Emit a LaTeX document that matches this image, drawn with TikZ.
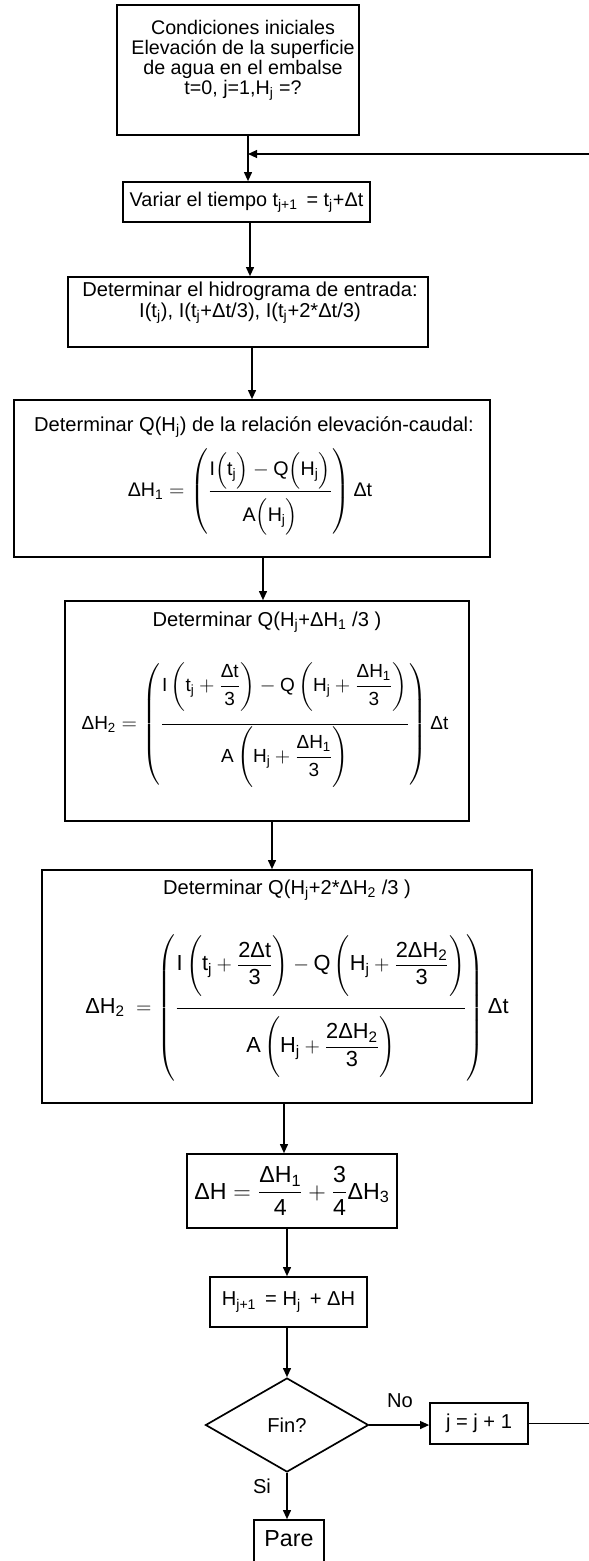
\documentclass[tikz,border=0pt]{standalone}
\usepackage{amsmath}
\usepackage{fontspec}
\setmainfont{Liberation Sans}
\setsansfont{Liberation Sans}
\usetikzlibrary{arrows.meta,shapes.geometric}
\newcommand\Dl{\text{Δ}}
\newcommand\sbs[1]{\textsubscript{#1}}
\newcommand\st[2]{\vrule width 0pt height #1 depth #2\relax}
\begin{document}
\begin{tikzpicture}[x=0.025cm,y=-0.025cm,
  bx/.style 2 args={draw, line width=1.2pt, inner sep=0pt, minimum width={#1*0.025cm}, minimum height={#2*0.025cm}},
  txt/.style={inner sep=0pt, font=\fontsize{14.3}{14.3}\selectfont, align=center},
  arr/.style={line width=1pt, -{Triangle[length=6.4pt,width=5.6pt]}}]
\useasboundingbox (0,0) rectangle (588,1561);

% boxes
\node[bx={242}{130}] (b1) at (238,70) {};
\node[bx={247}{40}, font=\fontsize{14.1}{14.3}\selectfont] (b2) at (246.5,202) {Variar el tiempo t\sbs{j+1} \,= t\sbs{j}+Δt};
\node[bx={360}{70}] (b3) at (248,312) {};
\node[bx={476}{157}] (b4) at (252,478.5) {};
\node[bx={404}{220}] (b5) at (267,711) {};
\node[bx={490}{233}] (b6) at (287,986.5) {};
\node[bx={210}{74}, font=\fontsize{16.5}{18}\selectfont] (b7) at (292,1191)
  {$\mathrm{\Dl H = \dfrac{\Dl H_1}{4} + \dfrac{3}{4}\Dl H_3}$};
\node[bx={157}{50}, font=\fontsize{14.3}{14.3}\selectfont] (b8) at (288.5,1302) {H\sbs{j+1} \,= H\sbs{j} \,+ ΔH};
\node[draw, line width=1.2pt, shape=diamond, inner sep=0pt, minimum width={163*0.025cm}, minimum height={94*0.025cm}, font=\fontsize{14.3}{14.3}\selectfont] (dia) at (287,1425) {Fin?};
\node[bx={98}{41}, font=\fontsize{14.3}{14.3}\selectfont] (jb) at (479,1423.5) {j = j + 1};
\node[bx={70}{55}] (pare) at (289,1547.5) {};

% texts
\node[txt, font=\fontsize{14}{14.3}\selectfont] (t1) at (243,60) {Condiciones iniciales\\Elevación de la superficie\\de agua en el embalse\\t=0, j=1,H\sbs{j} =?};
\node[txt, font=\fontsize{14.3}{14.9}\selectfont] (t3) at (250,303) {Determinar el hidrograma de entrada:\\I(t\sbs{j}), I(t\sbs{j}+Δt/3), I(t\sbs{j}+2*Δt/3)};
\node[txt] (t4) at (254,427) {Determinar Q(H\sbs{j}) de la relación elevación-caudal:};
\node[inner sep=0pt, font=\fontsize{14}{16}\selectfont] (f4) at (250,492)
  {$\mathrm{\Dl H_1 = \left(\dfrac{I\Bigl(t_j\Bigr) - Q\Bigl(H_j\Bigr)}{\st{19.5pt}{0pt}A\Bigl(H_j\Bigr)}\right)\Dl t}$};
\node[txt] (t5) at (267,622) {Determinar Q(H\sbs{j}+ΔH\sbs{1} /3 )};
\node[inner sep=0pt, font=\fontsize{13.5}{16}\selectfont] (f5) at (265,725)
  {$\mathrm{\Dl H_2 = \left(\dfrac{\st{0pt}{21pt}I\left(\st{19.9pt}{12.9pt}t_j + \dfrac{\Dl t}{3}\right) - Q\left(\st{19.9pt}{12.9pt}H_j + \dfrac{\Dl H_1}{3}\right)}{\st{25.3pt}{0pt}A\left(\st{23.4pt}{16.4pt}H_j + \dfrac{\Dl H_1}{3}\right)}\right)\Dl t}$};
\node[txt] (t6) at (287,890) {Determinar Q(H\sbs{j}+2*ΔH\sbs{2} /3 )};
\node[inner sep=0pt, font=\fontsize{15.5}{18}\selectfont] (f6) at (297,1008)
  {$\mathrm{\Dl H_2 \; = \left(\dfrac{\st{0pt}{24.5pt}I\left(\st{23.4pt}{15.6pt}t_j + \dfrac{2\Dl t}{3}\right) - Q\left(\st{23.4pt}{15.6pt}H_j + \dfrac{2\Dl H_2}{3}\right)}{\st{29.5pt}{0pt}A\left(\st{27pt}{19pt}H_j + \dfrac{2\Dl H_2}{3}\right)}\right)\Dl t}$};
\node[txt, font=\fontsize{16.5}{16.5}\selectfont] (tp) at (289,1539) {Pare};
\node[txt] (no) at (400,1401) {No};
\node[txt] (si) at (262,1486) {Si};

% connector x positions
\coordinate (x1) at (248,0);
\coordinate (x2) at (250,0);
\coordinate (x3) at (252,0);
\coordinate (x4) at (263,0);
\coordinate (x5) at (272,0);
\coordinate (x6) at (284,0);
\coordinate (x7) at (287,0);
\coordinate (loop) at (248,154);
\coordinate (re) at (600,0);

\draw[arr] (b1.south -| x1) -- (b2.north -| x1);
\draw[arr] (b2.south -| x2) -- (b3.north -| x2);
\draw[arr] (b3.south -| x3) -- (b4.north -| x3);
\draw[arr] (b4.south -| x4) -- (b5.north -| x4);
\draw[arr] (b5.south -| x5) -- (b6.north -| x5);
\draw[arr] (b6.south -| x6) -- (b7.north -| x6);
\draw[arr] (b7.south -| x7) -- (b8.north -| x7);
\draw[arr] (b8.south -| dia.north) -- (dia.north);
\draw[arr] (dia.east) -- (dia.east -| jb.west);
\draw[arr] (dia.south) -- (dia.south |- pare.north);
\draw[arr] (jb.east) -- (jb.east -| re) |- (loop);
\end{tikzpicture}
\end{document}
